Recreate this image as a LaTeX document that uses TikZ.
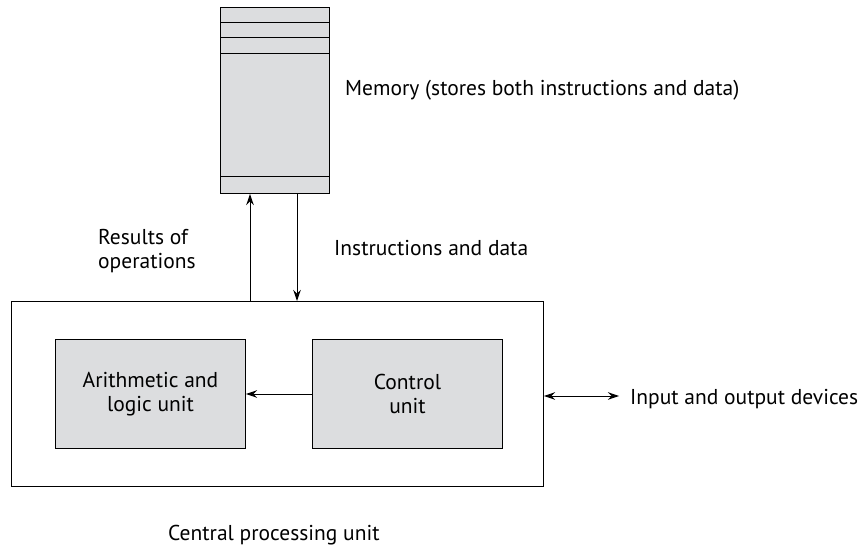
\documentclass[tikz,border=0pt]{standalone}
\usepackage{fontspec}
\setmainfont{PT Sans}
\usetikzlibrary{arrows.meta,calc}
\definecolor{boxgray}{RGB}{220,221,223}
\begin{document}
\begin{tikzpicture}[x=1pt,y=1pt,
  unitbox/.style={draw=black,line width=1pt,fill=boxgray,minimum width=190pt,minimum height=109pt,inner sep=0pt,align=center,font=\fontsize{21.5}{24}\selectfont},
  lbl/.style={inner sep=0pt,font=\fontsize{21.5}{24}\selectfont},
  conn/.style={line width=1pt,-{Stealth[length=11pt,width=7.5pt]}},
  dconn/.style={line width=1pt,{Stealth[length=11pt,width=7.5pt]}-{Stealth[length=11pt,width=7.5pt]}}]
\useasboundingbox (0,0) rectangle (861,557);
% memory
\node[draw=black,line width=1pt,fill=boxgray,minimum width=109pt,minimum height=186pt,inner sep=0pt,anchor=north west] (mem) at (220,550) {};
\foreach \yy in {534,519,503,380}
  \draw[line width=1pt] (mem.west |- 0,\yy) -- (mem.east |- 0,\yy);
% cpu
\node[draw=black,line width=1pt,minimum width=532pt,minimum height=185pt,inner sep=0pt,anchor=north west] (cpu) at (11,256) {};
\node[unitbox,anchor=north west] (alu) at (55,218) {Arithmetic and\\logic unit};
\node[unitbox,anchor=north west] (cu) at (312,218) {Control\\unit};
\draw[conn] (cu.west) -- (alu.east);
% memory arrows
\coordinate (upx) at (250,0);
\coordinate (dnx) at (297,0);
\draw[conn] (cpu.north -| upx) -- (mem.south -| upx);
\draw[conn] (mem.south -| dnx) -- (cpu.north -| dnx);
% io
\coordinate (io) at (619,161);
\draw[dconn] (cpu.east |- io) -- (io);
% labels
\node[lbl,anchor=west] (memlbl) at (345,467) {Memory (stores both instructions and data)};
\node[lbl,anchor=west,align=left] (res) at (98,306) {Results of\\operations};
\node[lbl,anchor=west] (ins) at (334,309) {Instructions and data};
\node[lbl,anchor=west] (iolbl) at (630,158) {Input and output devices};
\node[lbl,anchor=west] (cpulbl) at (168,22) {Central processing unit};
\end{tikzpicture}
\end{document}
